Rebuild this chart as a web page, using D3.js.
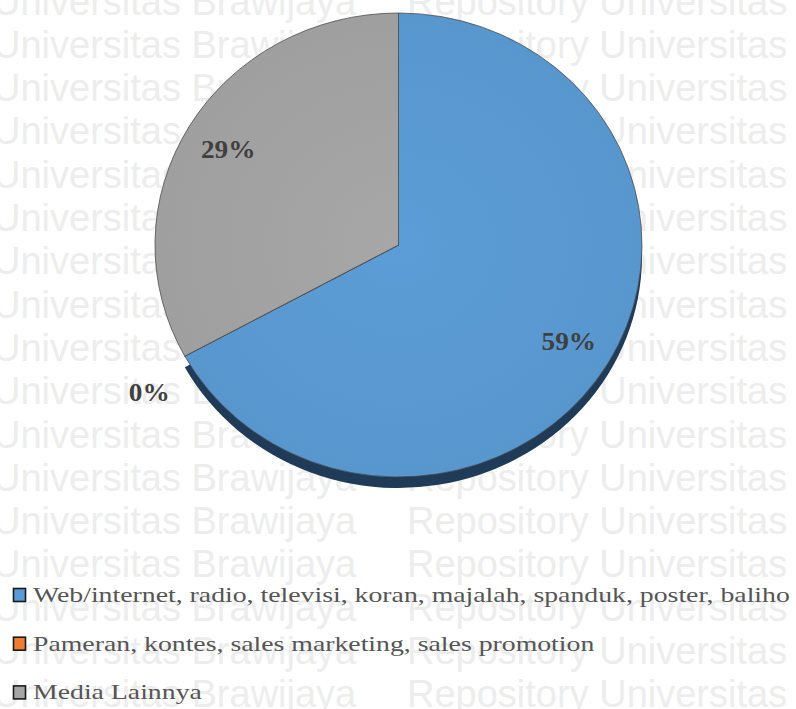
<!DOCTYPE html>
<html>
<head>
<meta charset="utf-8">
<script src="https://cdn.jsdelivr.net/npm/d3@7/dist/d3.min.js"></script>
<style>
  html, body { margin: 0; padding: 0; background: #ffffff; }
  svg { display: block; }
</style>
</head>
<body>
<svg id="chart" width="796" height="709"></svg>
<script>
// Media promosi yang digunakan
const categories = [
  "Web/internet, radio, televisi, koran, majalah, spanduk, poster, baliho",
  "Pameran, kontes, sales marketing, sales promotion",
  "Media Lainnya"
];
const values = [59, 0, 29];
const valueLabels = ["59%", "0%", "29%"];
const sliceColors = ["#5b9bd5", "#ed7d31", "#a5a5a5"];
const sideColors = ["#1f3b58", "#9a4f1d", "none"];

// Background repository watermark
const watermarkLeft = "Universitas Brawijaya";
const watermarkRight = "Repository Universitas";

const W = 796, H = 709;
const svg = d3.select("#chart");

// ---- watermark rows ----
const wmRows = d3.range(17);
const wmY = d3.scaleLinear().domain([0, 1]).range([14.5, 57.8]);
const wm = svg.append("g")
  .attr("font-family", "'Liberation Sans', Arial, sans-serif")
  .attr("font-size", 38)
  .attr("fill", "#ededed");
wm.selectAll("text.wl").data(wmRows).join("text")
  .attr("class", "wl").attr("x", -7).attr("y", d => wmY(d)).text(watermarkLeft);
wm.selectAll("text.wr").data(wmRows).join("text")
  .attr("class", "wr").attr("x", 407).attr("y", d => wmY(d)).text(watermarkRight);

// ---- pie ----
const cx = 398.5, cy = 245, R = 243.5, tilt = 232 / 243.5, depth = 11;

const defs = svg.append("defs");
sliceColors.forEach((c, i) => {
  const g = defs.append("radialGradient")
    .attr("id", "grad" + i)
    .attr("gradientUnits", "userSpaceOnUse")
    .attr("cx", 0).attr("cy", 0).attr("r", R);
  g.append("stop").attr("offset", "0%").attr("stop-color", d3.color(c).brighter(0.03));
  g.append("stop").attr("offset", "100%").attr("stop-color", d3.color(c).darker(0.1));
});

const pie = d3.pie().sort(null).value(d => d);
const arcs = pie(values);
const arc = d3.arc().innerRadius(0).outerRadius(R);
const labelArc = d3.arc().innerRadius(198).outerRadius(198);

// side face of the tilted pie, drawn beneath the top surface
const sideLayer = svg.append("g")
  .attr("transform", `translate(${cx},${cy + depth}) scale(1,${tilt})`);
sideLayer.selectAll("path").data(arcs).join("path")
  .attr("d", arc)
  .attr("fill", (d, i) => sideColors[i]);

const topLayer = svg.append("g")
  .attr("transform", `translate(${cx},${cy}) scale(1,${tilt})`);
topLayer.selectAll("path").data(arcs).join("path")
  .attr("d", arc)
  .attr("fill", (d, i) => `url(#grad${i})`)
  .attr("stroke", "#4a4a4a")
  .attr("stroke-width", 0.8)
  .attr("stroke-linejoin", "round");

// ---- data labels ----
const labels = svg.append("g")
  .attr("font-family", "'Liberation Serif', 'Times New Roman', serif")
  .attr("font-weight", "bold")
  .attr("font-size", 26)
  .attr("fill", "#404040")
  .attr("text-anchor", "middle");

labels.selectAll("text").data(arcs).join("text")
  .attr("transform", d => {
    let x, y;
    if (d.endAngle - d.startAngle > 0.05) {
      const [px, py] = labelArc.centroid(d);
      x = cx + px; y = cy + py * tilt;
    } else {
      // zero-size slice: label sits outside the rim
      const a = d.startAngle;
      x = cx + 284 * Math.sin(a);
      y = cy - 307 * Math.cos(a);
    }
    return `translate(${x},${y}) scale(1.05,1)`;
  })
  .attr("dy", "0.35em")
  .text((d, i) => valueLabels[i]);

// ---- legend ----
const legendY = d3.scaleLinear().domain([0, 1]).range([602, 650.7]);
const legend = svg.append("g");
const items = legend.selectAll("g").data(categories).join("g")
  .attr("transform", (d, i) => `translate(0,${legendY(i)})`);
items.append("rect")
  .attr("x", 13.5).attr("y", -13.5)
  .attr("width", 12).attr("height", 13)
  .attr("fill", (d, i) => sliceColors[i])
  .attr("stroke", "#1a1a1a").attr("stroke-width", 1.6);
const legendText = items.append("text")
  .attr("font-family", "'Liberation Serif', 'Times New Roman', serif")
  .attr("font-size", 21.5)
  .attr("fill", "#555555")
  .text(d => d);

// the legend font is set wide: fit the longest entry to its row width
const longest = legendText.nodes()[0].getComputedTextLength();
const sx = (790 - 33) / longest;
legendText.attr("transform", `translate(33,0) scale(${sx},1)`);
</script>
</body>
</html>
